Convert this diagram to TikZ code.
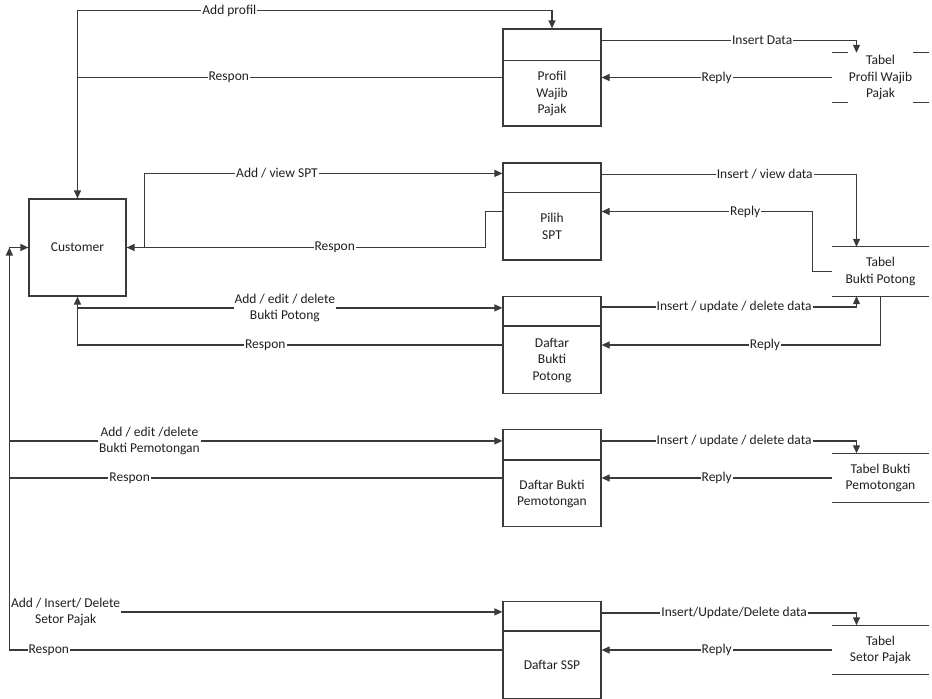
\documentclass[tikz,border=0pt]{standalone}
\usepackage{fontspec}
\setmainfont{Carlito}
\usetikzlibrary{arrows.meta}
\definecolor{linec}{HTML}{3A3A3A}
\definecolor{txtc}{HTML}{202020}
\begin{document}
\begin{tikzpicture}[x=1pt,y=-1pt,
  every node/.style={font=\fontsize{13.5}{16.5}\selectfont, text=txtc},
  extbox/.style={draw=linec, line width=1.2pt, minimum width=97pt, minimum height=97pt, inner sep=0pt},
  proc/.style={draw=linec, line width=1.2pt, minimum width=98pt, minimum height=97pt, inner sep=0pt},
  ptext/.style={align=center, inner sep=0pt},
  dstore/.style={minimum width=97pt, minimum height=49pt, inner sep=0pt, align=center},
  flow/.style={draw=linec, line width=1.2pt, -{Triangle[length=8pt,width=7pt]}},
  lbl/.style={fill=white, inner sep=1pt},
  lbltwo/.style={fill=white, inner sep=1pt, align=center},
  dsline/.style={draw=linec, line width=1.2pt}
]
\useasboundingbox (0,0) rectangle (932,699);
\fill[white] (0,0) rectangle (932,699);

% external entity
\node[extbox] (cust) at (77.5,247.5) {Customer};

% processes
\node[proc] (p1) at (552,77.5) {};
\node[proc] (p2) at (552,211.5) {};
\node[proc] (p3) at (552,345) {};
\node[proc] (p4) at (552,478) {};
\node[proc] (p5) at (552,650) {};
\draw[dsline] ([yshift=-32pt]p1.north west) -- ([yshift=-32pt]p1.north east);
\draw[dsline] ([yshift=-30pt]p2.north west) -- ([yshift=-30pt]p2.north east);
\draw[dsline] ([yshift=-30pt]p3.north west) -- ([yshift=-30pt]p3.north east);
\draw[dsline] ([yshift=-31pt]p4.north west) -- ([yshift=-31pt]p4.north east);
\draw[dsline] ([yshift=-30pt]p5.north west) -- ([yshift=-30pt]p5.north east);
\node[ptext] (p1t) at (552,93.5) {Profil\\Wajib\\Pajak};
\node[ptext] (p2t) at (552,226.5) {Pilih\\SPT};
\node[ptext] (p3t) at (552,360.5) {Daftar\\Bukti\\Potong};
\node[ptext] (p4t) at (552,494) {Daftar Bukti\\Pemotongan};
\node[ptext] (p5t) at (552,665) {Daftar SSP};

% data stores
\node[dstore] (ds1) at (880.5,77.5) {Tabel\\Profil Wajib\\Pajak};
\node[dstore] (ds2) at (880.5,271.5) {Tabel\\Bukti Potong};
\node[dstore] (ds3) at (880.5,478) {Tabel Bukti\\Pemotongan};
\node[dstore] (ds4) at (880.5,650) {Tabel\\Setor Pajak};
\draw[dsline] (ds1.north west) -- ++(16,0);
\draw[dsline] (ds1.north east) -- ++(-16,0);
\draw[dsline] (ds1.south west) -- ++(16,0);
\draw[dsline] (ds1.south east) -- ++(-16,0);
\foreach \d in {ds2,ds3,ds4}{
  \draw[dsline] (\d.north west) -- (\d.north east);
  \draw[dsline] (\d.south west) -- (\d.south east);
}

% Profil Wajib Pajak
\draw[flow] (cust.north) -- ++(0,-188) coordinate (a1)
  -- node[lbl,pos=0.32]{Add profil} (a1 -| p1.north) -- (p1.north);
\draw[flow] (p1.west) -- node[lbl,pos=0.644]{Respon} (p1.west -| cust.north) -- (cust.north);
\draw[flow] ([yshift=-12pt]p1.north east) -| node[lbl,pos=0.315]{Insert Data} ([xshift=-24pt]ds1.north);
\draw[flow] (ds1.west) -- node[lbl]{Reply} (p1.east);

% Pilih SPT
\draw[flow] (cust.east) -- ++(18,0) |- node[lbl,pos=0.685]{Add / view SPT} ([yshift=-11pt]p2.north west);
\draw[flow] (p2.west) -- ++(-17,0) |- node[lbl,pos=0.71]{Respon} (cust.east);
\draw[flow] ([yshift=-12pt]p2.north east) -| node[lbl,pos=0.32]{Insert / view data} ([xshift=-24pt]ds2.north);
\draw[flow] (ds2.west) -- ++(-19,0) |- node[lbl,pos=0.66]{Reply} (p2.east);

% Daftar Bukti Potong
\draw[flow] (cust.south) |- node[lbltwo,pos=0.744]{Add / edit / delete\\Bukti Potong} ([yshift=-12pt]p3.north west);
\draw[flow] (p3.west) -| node[lbl,pos=0.279]{Respon} (cust.south);
\draw[flow] ([yshift=-11pt]p3.north east) -| node[lbl,pos=0.26]{Insert / update / delete data} ([xshift=-24pt]ds2.south);
\draw[flow] (ds2.south) |- node[lbl,pos=0.707]{Reply} (p3.east);

% Daftar Bukti Pemotongan
\draw[flow] (cust.west) -- ++(-19,0) coordinate (bus) |- node[lbltwo,pos=0.642]{Add / edit /delete\\Bukti Pemotongan} ([yshift=-12pt]p4.north west);
\draw[flow] (p4.west) -| node[lbl,pos=0.378]{Respon} (bus) -- (cust.west);
\draw[flow] ([yshift=-12pt]p4.north east) -| node[lbl,pos=0.26]{Insert / update / delete data} ([xshift=-24pt]ds3.north);
\draw[flow] (ds3.west) -- node[lbl]{Reply} (p4.east);

% Daftar SSP
\draw[flow] (bus) |- node[lbltwo,pos=0.557]{Add / Insert/ Delete\\Setor Pajak} ([yshift=-11pt]p5.north west);
\draw[flow] (p5.west) -| node[lbl,pos=0.46]{Respon} (bus);
\draw[flow] ([yshift=-12pt]p5.north east) -| node[lbl,pos=0.26]{Insert/Update/Delete data} ([xshift=-24pt]ds4.north);
\draw[flow] (ds4.west) -- node[lbl]{Reply} (p5.east);
\end{tikzpicture}
\end{document}
